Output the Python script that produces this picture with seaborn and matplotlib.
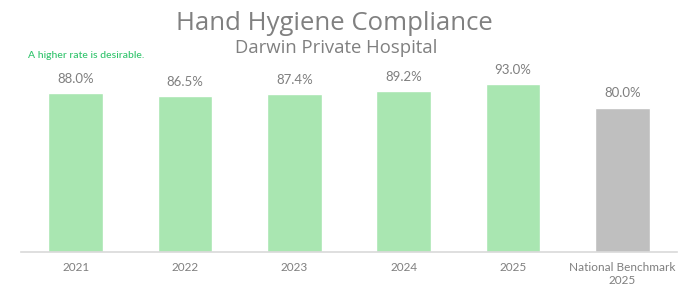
import matplotlib
matplotlib.use("Agg")
import matplotlib.pyplot as plt
import seaborn as sns
import pandas as pd

categories = ["2021", "2022", "2023", "2024", "2025", "National Benchmark\n2025"]
values = [88.0, 86.5, 87.4, 89.2, 93.0, 80.0]
bar_colors = ["#a9e6b1", "#a9e6b1", "#a9e6b1", "#a9e6b1", "#a9e6b1", "#bfbfbf"]
title = "Hand Hygiene Compliance"
subtitle = "Darwin Private Hospital"
note = "A higher rate is desirable."

sns.set_theme(style="white")
plt.rcParams["font.family"] = ["Lato", "DejaVu Sans"]

df = pd.DataFrame({"cat": categories, "val": values})

fig = plt.figure(figsize=(6.8, 3.05), dpi=100)
ax = fig.add_axes([21 / 680, 1 - 252 / 305, (677 - 21) / 680, 180.5 / 305])
sns.barplot(data=df, x="cat", y="val", hue="cat", palette=bar_colors,
            legend=False, width=0.5, ax=ax, saturation=1)
ax.set_ylim(0, 100)
ax.set_xlim(-0.5, 5.5)
for c in ax.containers:
    ax.bar_label(c, labels=[f"{v:.1f}%" for v in c.datavalues], padding=6,
                 color="#7f7f7f", fontsize=9.5)
ax.set_xlabel("")
ax.set_ylabel("")
ax.set_yticks([])
for s in ["top", "left", "right"]:
    ax.spines[s].set_visible(False)
ax.spines["bottom"].set_color("#d9d9d9")
ax.spines["bottom"].set_linewidth(1.2)
ax.tick_params(axis="x", length=0, pad=7, colors="#7f7f7f", labelsize=8.5)

fig.text(334 / 680, 1 - 23 / 305, title, ha="center", va="center", fontsize=18.5,
         color="#808080", family=["Open Sans", "DejaVu Sans"])
fig.text(336 / 680, 1 - 48 / 305, subtitle, ha="center", va="center", fontsize=13.3,
         color="#808080", family=["Open Sans", "DejaVu Sans"])
fig.text(28 / 680, 1 - 56 / 305, note, ha="left", va="center", fontsize=7.5,
         color="#2ec36a", fontweight="medium")

fig.savefig("out.png", dpi=100)
